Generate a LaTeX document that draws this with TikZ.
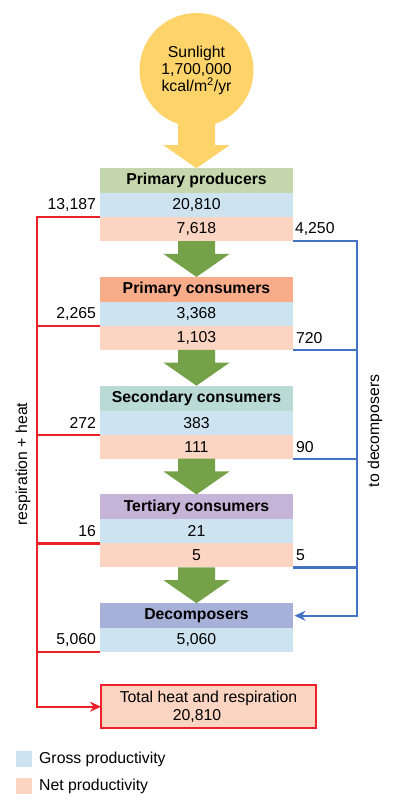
\documentclass[tikz,border=0pt]{standalone}
\usepackage{fontspec}
\setmainfont{Liberation Sans}
\usepackage{tikz}
\usetikzlibrary{arrows.meta, positioning, calc}
\definecolor{Sun_Yellow}{RGB}{253,211,106}
\definecolor{Flow_Green}{RGB}{117,162,73}
\definecolor{PP_Green}{RGB}{197,215,172}
\definecolor{PC_Orange}{RGB}{249,172,138}
\definecolor{SC_Teal}{RGB}{186,219,213}
\definecolor{TC_Lilac}{RGB}{198,179,216}
\definecolor{DC_Blue}{RGB}{167,176,216}
\definecolor{Gross_Blue}{RGB}{205,228,240}
\definecolor{Net_Peach}{RGB}{251,212,194}
\definecolor{Heat_Red}{RGB}{236,32,40}
\definecolor{Decay_Blue}{RGB}{68,114,196}

% block arrow: colour, start, tip
\newcommand{\fatarrow}[3]{%
  \fill[#1] ($(#2)+(-18.5pt,0)$) -- ($(#3)+(-18.5pt,23pt)$) -- ($(#3)+(-33pt,23pt)$) -- (#3)
    -- ($(#3)+(33pt,23pt)$) -- ($(#3)+(18.5pt,23pt)$) -- ($(#2)+(18.5pt,0)$) -- cycle;}

\begin{document}
\begin{tikzpicture}[
    node distance=0pt,
    font=\fontsize{15.8}{17}\selectfont,
    sun/.style={circle, fill=Sun_Yellow, minimum size=114pt, inner sep=0pt, align=center},
    head/.style={rectangle, minimum width=193pt, minimum height=25pt, inner sep=0pt, outer sep=0pt,
                 font=\fontsize{15.8}{17}\selectfont\bfseries},
    gross/.style={rectangle, fill=Gross_Blue, minimum width=193pt, minimum height=24pt,
                  inner sep=0pt, outer sep=0pt},
    net/.style={gross, fill=Net_Peach},
    total/.style={rectangle, draw=Heat_Red, line width=2.5pt, fill=Net_Peach, minimum width=215pt,
                  minimum height=43pt, inner sep=0pt, outer sep=0pt, align=center,
                  font=\fontsize{15.8}{18}\selectfont},
    numlabel/.style={inner sep=0pt, outer sep=0pt},
    key/.style={rectangle, minimum size=16pt, inner sep=0pt},
    heatline/.style={draw=Heat_Red, line width=2.4pt},
    decayline/.style={draw=Decay_Blue, line width=2.4pt},
    tip/.style={-{Stealth[length=11pt, width=10pt]}}
]
\useasboundingbox (0,0) rectangle (400pt,-810pt);

\node[sun] (sun) at (196.5pt,-70pt) {Sunlight\\1,700,000\\kcal/m\textsuperscript{2}/yr};

\node[head, fill=PP_Green, below=41pt of sun] (pp) {Primary producers};
\node[gross, below=of pp] (pp-g) {20,810};
\node[net, below=of pp-g] (pp-n) {7,618};

\node[head, fill=PC_Orange, below=35.75pt of pp-n] (pc) {Primary consumers};
\node[gross, below=of pc] (pc-g) {3,368};
\node[net, below=of pc-g] (pc-n) {1,103};

\node[head, fill=SC_Teal, below=35.75pt of pc-n] (sc) {Secondary consumers};
\node[gross, below=of sc] (sc-g) {383};
\node[net, below=of sc-g] (sc-n) {111};

\node[head, fill=TC_Lilac, below=35.75pt of sc-n] (tc) {Tertiary consumers};
\node[gross, below=of tc] (tc-g) {21};
\node[net, below=of tc-g] (tc-n) {5};

\node[head, fill=DC_Blue, below=35.75pt of tc-n] (dc) {Decomposers};
\node[gross, below=of dc] (dc-g) {5,060};

\node[total, below right=33pt and 1pt of dc-g.south west] (total) {Total heat and respiration\\20,810\hspace*{23pt}};

% respiration losses
\node[numlabel, left=4pt of pp-g] (pp-r) {13,187};
\node[numlabel, left=4pt of pc-g] (pc-r) {2,265};
\node[numlabel, left=4pt of sc-g] (sc-r) {272};
\node[numlabel, left=4pt of tc-g] (tc-r) {16};
\node[numlabel, left=4pt of dc-g] (dc-r) {5,060};

% to decomposers
\node[numlabel, right=2pt of pp-n] (pp-d) {4,250};
\node[numlabel, right=3pt of pc-n] (pc-d) {720};
\node[numlabel, right=3pt of sc-n] (sc-d) {90};
\node[numlabel, right=3pt of tc-n] (tc-d) {5};

\coordinate[left=63pt of pp-g.south west] (heat);
\coordinate[right=64pt of pp-n.south east] (decay);
\coordinate (sun-foot) at ([yshift=4pt]sun.south);

\fatarrow{Sun_Yellow}{sun-foot}{pp.north}
\foreach \a/\b in {pp/pc, pc/sc, sc/tc, tc/dc}
  \fatarrow{Flow_Green}{\a-n.south}{\b.north};

\draw[heatline, tip] (pp-g.south west) -- (heat) |- (total);
\foreach \n in {pc, sc, tc, dc}
  \draw[heatline] (\n-g.south west) -- (heat |- \n-g.south west);

\draw[decayline, tip, shorten >=1.5pt] (pp-n.south east) -- (decay) |- (dc);
\foreach \n in {pc, sc, tc}
  \draw[decayline] (\n-n.south east) -- (decay |- \n-n.south east);

\node[rotate=90] (resp-label) at (23pt,-464pt) {respiration + heat};
\node[rotate=90] (decay-label) at (375pt,-431pt) {to decomposers};

% legend
\node[key, fill=Gross_Blue] (key-g) at (24pt,-759pt) {};
\node[numlabel, right=7pt of key-g] (key-g-txt) {Gross productivity};
\node[key, fill=Net_Peach] (key-n) at (24pt,-786pt) {};
\node[numlabel, right=7pt of key-n] (key-n-txt) {Net productivity};

\end{tikzpicture}
\end{document}
